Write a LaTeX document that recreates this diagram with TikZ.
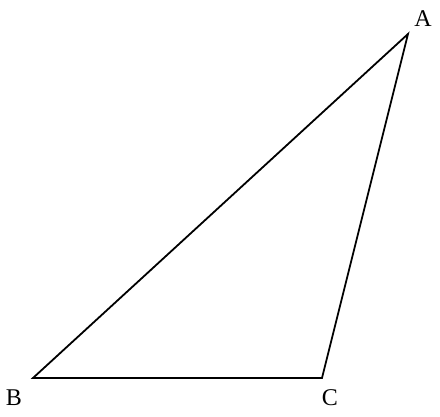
\documentclass[tikz,border=0pt]{standalone}
\usepackage{fontspec}
\setmainfont{Liberation Serif}
\begin{document}
\begin{tikzpicture}[x=1pt,y=-1pt,
  edge/.style={line width=1.8pt,line join=miter},
  lab/.style={font=\fontsize{24}{28}\selectfont,inner sep=0pt}]
\useasboundingbox (0,0) rectangle (440,416);
\coordinate (A) at (408,34);
\coordinate (B) at (33,378);
\coordinate (C) at (322,378);
\draw[edge] (A) -- (B) -- (C) -- cycle;
\node[lab] (la) at (423,19) {A};
\node[lab] (lb) at (14,398) {B};
\node[lab] (lc) at (330,398) {C};
\end{tikzpicture}
\end{document}
